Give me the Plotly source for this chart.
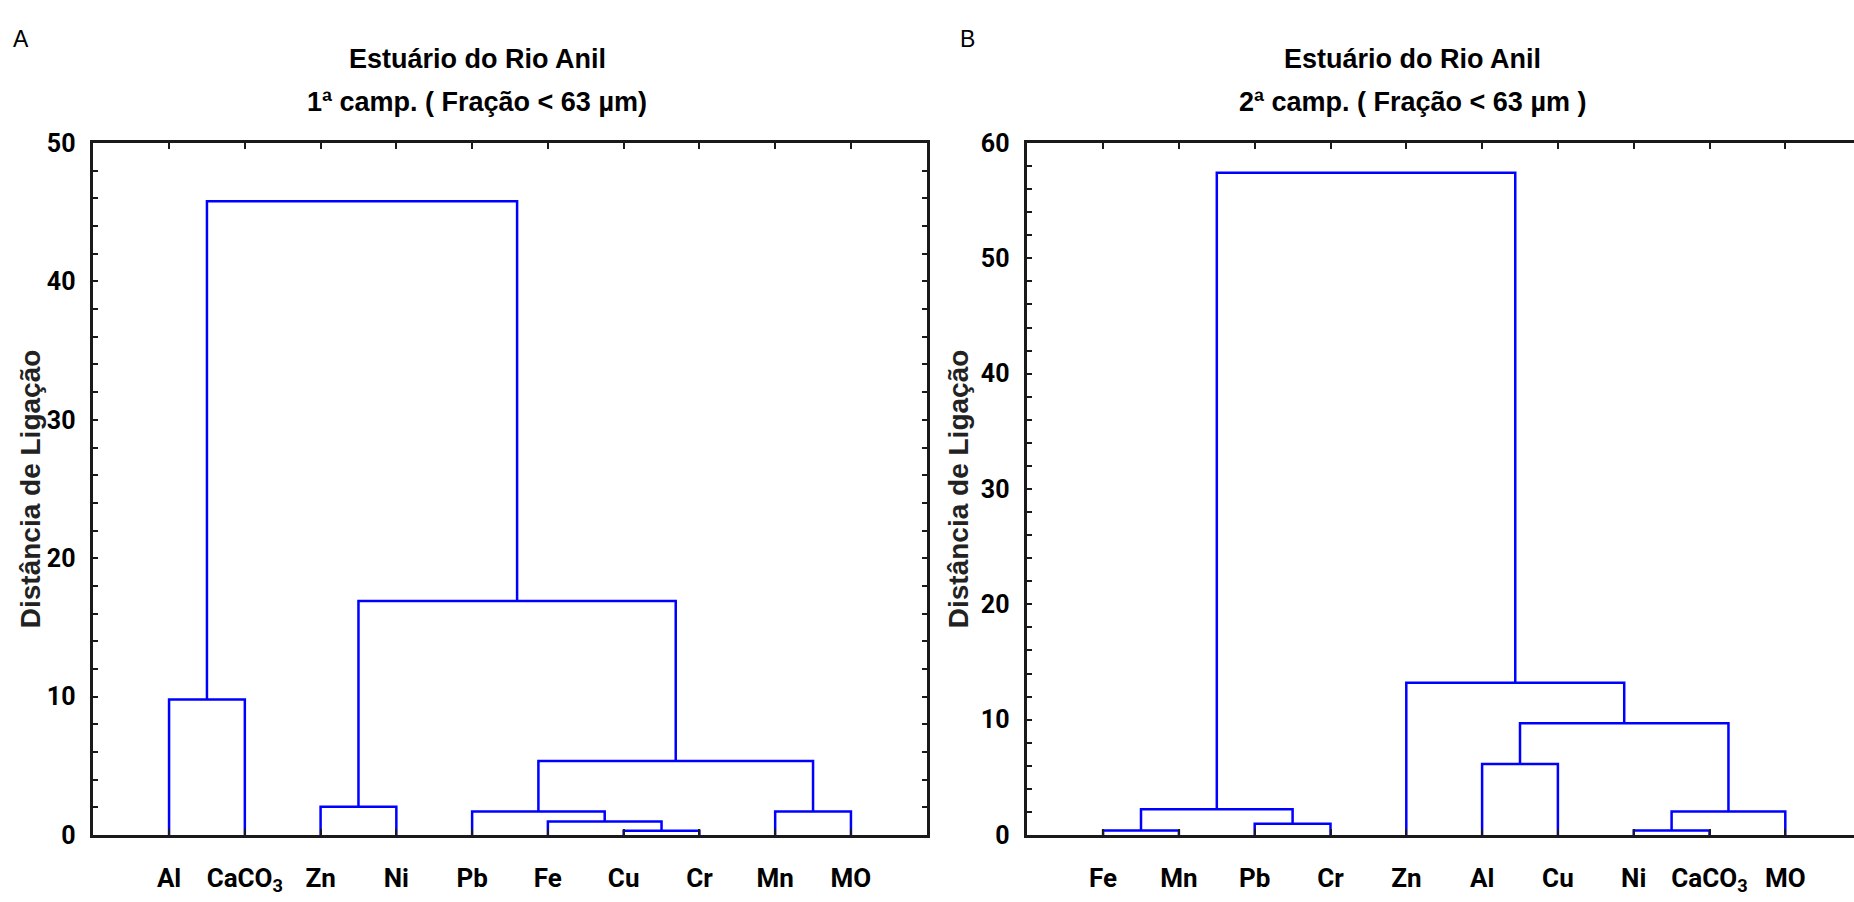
import plotly.graph_objects as go

# ---------------- data ----------------
leaves_a = ["Al", "CaCO<sub>3</sub>", "Zn", "Ni", "Pb", "Fe", "Cu", "Cr", "Mn", "MO"]
merge_a_left = [6, 5, 4, 8, 2, 12, 0, 14, 16]
merge_a_right = [7, 10, 11, 9, 3, 13, 1, 15, 17]
height_a = [0.3, 0.98, 1.7, 1.7, 2.05, 5.35, 9.8, 16.9, 45.8]

leaves_b = ["Fe", "Mn", "Pb", "Cr", "Zn", "Al", "Cu", "Ni", "CaCO<sub>3</sub>", "MO"]
merge_b_left = [0, 7, 2, 11, 10, 5, 15, 4, 14]
merge_b_right = [1, 8, 3, 9, 12, 6, 13, 16, 17]
height_b = [0.4, 0.4, 0.97, 2.05, 2.23, 6.15, 9.69, 13.2, 57.42]

title_a = ["Estuário do Rio Anil", "1ª camp. ( Fração < 63 µm)"]
title_b = ["Estuário do Rio Anil", "2ª camp. ( Fração < 63 µm )"]
y_title = "Distância de Ligação"

W, H = 1854, 902


def dendro_xy(leaves, lefts, rights, heights):
    n = len(leaves)
    pos = {i: i + 1 for i in range(n)}
    hgt = {i: 0.0 for i in range(n)}
    xs, ys = [], []
    for k, (l, r, h) in enumerate(zip(lefts, rights, heights)):
        xs += [pos[l], pos[l], pos[r], pos[r], None]
        ys += [hgt[l], h, h, hgt[r], None]
        pos[n + k] = (pos[l] + pos[r]) / 2
        hgt[n + k] = h
    return xs, ys


fig = go.Figure()
xa, ya = dendro_xy(leaves_a, merge_a_left, merge_a_right, height_a)
xb, yb = dendro_xy(leaves_b, merge_b_left, merge_b_right, height_b)
line = dict(color="#0000ff", width=2.5)
fig.add_trace(go.Scatter(x=xa, y=ya, mode="lines", line=line, xaxis="x", yaxis="y",
                         showlegend=False, hoverinfo="skip", cliponaxis=False))
fig.add_trace(go.Scatter(x=xb, y=yb, mode="lines", line=line, xaxis="x2", yaxis="y2",
                         showlegend=False, hoverinfo="skip", cliponaxis=False))

narrow = "Liberation Sans Narrow, Roboto, Liberation Sans, sans-serif"
xtickfont = dict(family=narrow, size=26, color="#000000", weight="bold")
ytickfont = dict(family=narrow, size=25, color="#000000", weight="bold")
axcol = "#1a1a1a"

def xax(domain, rng, labels, mirror):
    return dict(domain=domain, range=rng, tickvals=list(range(1, len(labels) + 1)),
                ticktext=labels, ticks="inside", ticklen=6, tickwidth=2, tickcolor=axcol,
                showline=True, linecolor=axcol, linewidth=2.5, mirror=mirror,
                showgrid=False, zeroline=False, tickfont=xtickfont, ticklabelstandoff=18,
                fixedrange=True)

def yax(domain, rng, anchor, mirror):
    return dict(domain=domain, range=rng, anchor=anchor, dtick=10, ticks="inside", ticklen=5,
                tickwidth=2, tickcolor=axcol,
                minor=dict(dtick=2, ticks="inside", ticklen=5, tickwidth=2, tickcolor=axcol),
                showline=True, linecolor=axcol, linewidth=2.5, mirror=mirror,
                showgrid=False, zeroline=False, tickfont=ytickfont, ticklabelstandoff=10,
                fixedrange=True)

ydom = [1 - 848.3 / H, 1 - 133.3 / H]
x1dom = [93.3 / W, 926.7 / W]
x2dom = [1027.3 / W, 1.0]
unit = 75.8

fig.update_layout(
    width=W, height=H, margin=dict(l=0, r=0, t=0, b=0),
    paper_bgcolor="white", plot_bgcolor="white",
    xaxis=xax(x1dom, [0, 11], leaves_a, "ticks") | dict(anchor="y"),
    yaxis=yax(ydom, [0, 50], "x", "ticks"),
    xaxis2=xax(x2dom, [0, (W - 1027.3) / unit], leaves_b, "ticks") | dict(anchor="y2"),
    yaxis2=yax(ydom, [0, 60], "x2", False),
)

tfont = dict(family="Liberation Sans, Arial, sans-serif", size=27, color="#000000", weight="bold")
ann = []
for cx, lines in [(477, title_a), (1412, title_b)]:
    for yy, txt in zip([47, 91], lines):
        ann.append(dict(x=cx / W, y=1 - yy / H, xref="paper", yref="paper", text=txt,
                        showarrow=False, font=tfont, xanchor="center", yanchor="middle"))
for cx in [30, 958]:
    ann.append(dict(x=cx / W, y=1 - 491 / H, xref="paper", yref="paper", text=y_title,
                    textangle=-90, showarrow=False, xanchor="center", yanchor="middle",
                    font=dict(family="Liberation Sans, Arial, sans-serif", size=28,
                              color="#222222", weight="bold")))
for cx, letter in [(21, "A"), (967, "B")]:
    ann.append(dict(x=cx / W, y=1 - 26 / H, xref="paper", yref="paper", text=letter,
                    showarrow=False, xanchor="center", yanchor="middle",
                    font=dict(family="Liberation Sans, Arial, sans-serif", size=23,
                              color="#000000")))
fig.update_layout(annotations=ann)

fig.write_html("out.html")
